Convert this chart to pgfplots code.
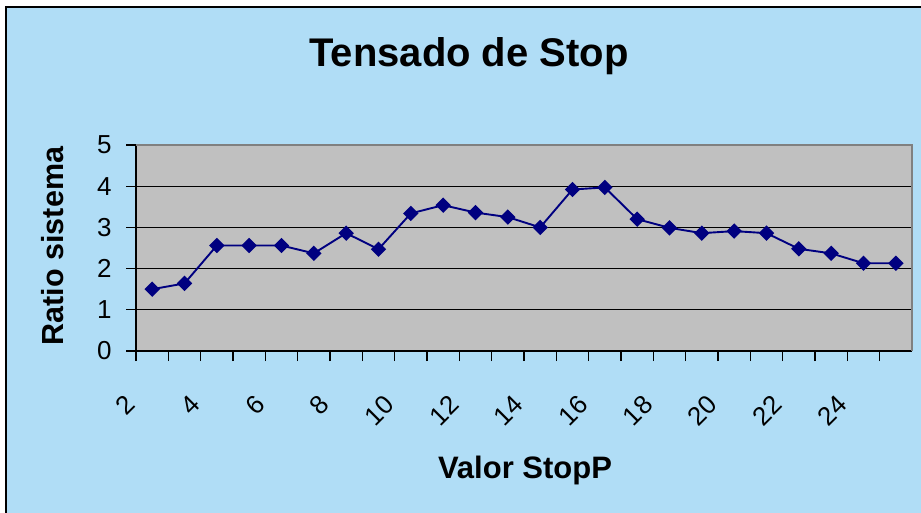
\documentclass[border=0pt]{standalone}
\usepackage{pgfplots}
\pgfplotsset{compat=1.18}
\usepackage{fontspec}
\setmainfont{Liberation Sans}
\definecolor{chartbg}{RGB}{176,221,246}
\definecolor{plotgray}{RGB}{192,192,192}
\definecolor{navy}{RGB}{0,0,128}
\begin{document}
\begin{tikzpicture}
\useasboundingbox (0pt,0pt) rectangle (921pt,-513pt);
\fill[white] (0pt,0pt) rectangle (921pt,-513pt);
\fill[chartbg] (6.2pt,-7pt) rectangle (925pt,-520pt);
\draw[black,line width=2.4pt] (6.2pt,-520pt) -- (6.2pt,-7pt) -- (925pt,-7pt);
\node[anchor=base,font=\fontsize{40}{48}\selectfont\bfseries] at (469pt,-66.7pt) {Tensado de Stop};
\node[anchor=base,font=\fontsize{31}{37}\selectfont\bfseries] at (525pt,-478.3pt) {Valor StopP};
\node[anchor=base,rotate=90,font=\fontsize{30.5}{37}\selectfont\bfseries] at (63.3pt,-246pt) {Ratio sistema};
\begin{axis}[
  at={(136pt,-351pt)}, anchor=south west,
  scale only axis, width=776pt, height=206pt,
  xmin=0.5, xmax=24.5, ymin=0, ymax=5,
  axis background/.style={fill=plotgray},
  axis lines*=left,
  axis line style={black,line width=1.2pt},
  xtick={0.5,2.5,...,22.5},
  xticklabels={2,4,6,8,10,12,14,16,18,20,22,24},
  minor xtick={1.5,3.5,...,24.5},
  ytick={0,1,2,3,4,5},
  tick align=outside,
  major tick length=10pt,
  minor tick length=10pt,
  tick style={black,line width=1.2pt},
  ymajorgrids,
  grid style={black,line width=1pt},
  /pgf/number format/assume math mode=true,
  tick label style={font=\fontsize{26}{31}\selectfont},
  yticklabel style={xshift=-11pt},
  xticklabel style={yshift=-38.4pt,xshift=-4.4pt,rotate=45,anchor=east,inner sep=1pt},
  clip=false,
]
\draw[gray,line width=1.5pt] (rel axis cs:0,1) -- (rel axis cs:1,1) -- (rel axis cs:1,0);
\addplot[navy,line width=1.9pt,mark=square*,mark size=4.5pt,mark options={rotate=45,solid,fill=navy}] coordinates {
(1,1.50) (2,1.64) (3,2.56) (4,2.56) (5,2.56) (6,2.37) (7,2.86) (8,2.47)
(9,3.34) (10,3.54) (11,3.36) (12,3.25) (13,3.00) (14,3.92) (15,3.97) (16,3.20)
(17,2.99) (18,2.86) (19,2.91) (20,2.86) (21,2.48) (22,2.37) (23,2.13) (24,2.13)
};
\end{axis}
\end{tikzpicture}
\end{document}
